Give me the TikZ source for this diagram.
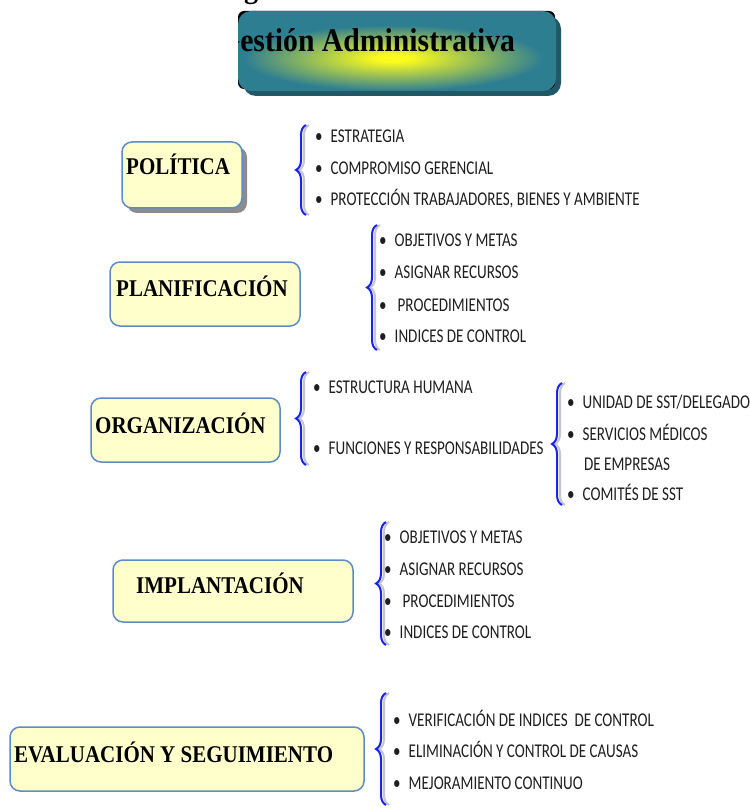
\documentclass[tikz,border=0pt]{standalone}
\usepackage{fontspec}
\setmainfont{Liberation Serif}
\newfontfamily\cond[FakeStretch=0.773]{Carlito}
\newfontfamily\stagefont[FakeStretch=0.875]{Liberation Serif}
\newfontfamily\titlefont[FakeStretch=0.9]{Liberation Serif}
\usetikzlibrary{decorations.pathreplacing}

\definecolor{boxfill}{RGB}{255,255,204}
\definecolor{boxline}{RGB}{92,140,198}
\definecolor{tealmain}{RGB}{46,126,146}
\definecolor{tealdark}{RGB}{32,88,102}
\definecolor{glowc}{RGB}{250,250,30}
\definecolor{bracecol}{RGB}{25,35,235}
\definecolor{shadowgray}{RGB}{140,140,140}
\definecolor{itemcol}{RGB}{30,30,30}

\pgfdeclareradialshading{titleglow}{\pgfpoint{0bp}{0bp}}{%
  color(0bp)=(glowc); color(3bp)=(glowc); color(25bp)=(tealmain); color(50bp)=(tealmain)}

\tikzset{
  stagebox/.style={draw=boxline, line width=1.5pt, fill=boxfill, rounded corners=10pt, inner sep=0pt},
  stagetext/.style={anchor=base west, inner sep=0pt, font=\stagefont\bfseries\fontsize{24}{26}\selectfont},
  itemtext/.style={anchor=base west, inner sep=0pt, text=itemcol, font=\cond\fontsize{19.5}{21}\selectfont},
  bracestyle/.style={draw=bracecol, line width=2pt, decorate, decoration={brace, amplitude=10pt}},
  braceshadow/.style={draw=gray!45, line width=2pt, decorate, decoration={brace, amplitude=10pt}},
}
\newcommand{\bul}{•\hspace{8pt}}

\begin{document}
\begin{tikzpicture}[x=1pt, y=-1pt]
\useasboundingbox (0,0) rectangle (749,810);

% fragment of text above the page
\node[anchor=base west, inner sep=0pt, font=\bfseries\fontsize{28}{30}\selectfont] (gfrag) at (244,-1) {g};

% title
\fill[tealdark, rounded corners=13pt] (243,16) rectangle (561,96);
\fill[black, rounded corners=6pt] (238,11) rectangle (555,89);
\node[fill=tealmain, rounded corners=13pt, minimum width=318pt, minimum height=80pt, inner sep=0pt] (title) at (397,51) {};
\begin{scope}
  \clip[rounded corners=13pt] (title.south west) rectangle (title.north east);
  \shade[shading=titleglow] (393,58) ellipse [x radius=150pt, y radius=33pt];
  \node[anchor=base west, inner sep=0pt, font=\titlefont\bfseries\fontsize{33}{36}\selectfont] (titletext) at (217,52) {Gestión Administrativa};
\end{scope}

% POLITICA
\fill[shadowgray, rounded corners=10pt] (127,147) rectangle (247,213);
\node[stagebox, minimum width=120pt, minimum height=66pt] (pol) at (182,175) {};
\node[stagetext] (polt) at (126,175) {POLÍTICA};
\coordinate (pola) at (306,215);
\coordinate (polb) at (306,125);
\draw[braceshadow] ([xshift=3pt]pola) -- ([xshift=3pt]polb);
\draw[bracestyle] (pola) -- (polb);
\node[itemtext] (pol1) at (315,143) {\bul ESTRATEGIA};
\node[itemtext] (pol2) at (315,175) {\bul COMPROMISO GERENCIAL};
\node[itemtext] (pol3) at (315,206) {\bul PROTECCIÓN TRABAJADORES, BIENES Y AMBIENTE};

% PLANIFICACION
\node[stagebox, minimum width=190pt, minimum height=64pt] (plan) at (205,294) {};
\node[stagetext] (plant) at (116,296) {PLANIFICACIÓN};
\coordinate (plana) at (377,350);
\coordinate (planb) at (377,225);
\draw[braceshadow] ([xshift=3pt]plana) -- ([xshift=3pt]planb);
\draw[bracestyle] (plana) -- (planb);
\node[itemtext] (plan1) at (379,247) {\bul OBJETIVOS Y METAS};
\node[itemtext] (plan2) at (379,278) {\bul ASIGNAR RECURSOS};
\node[itemtext] (plan3) at (379,311) {\bul\hspace{3pt}PROCEDIMIENTOS};
\node[itemtext] (plan4) at (379,342) {\bul INDICES DE CONTROL};

% ORGANIZACION
\node[stagebox, minimum width=189pt, minimum height=64pt] (org) at (185.5,430) {};
\node[stagetext] (orgt) at (95,433) {ORGANIZACIÓN};
\coordinate (orga) at (306,465);
\coordinate (orgb) at (306,372);
\draw[braceshadow] ([xshift=3pt]orga) -- ([xshift=3pt]orgb);
\draw[bracestyle] (orga) -- (orgb);
\node[itemtext] (org1) at (313,393) {\bul ESTRUCTURA HUMANA};
\node[itemtext] (org2) at (313,454) {\bul FUNCIONES Y RESPONSABILIDADES};
\coordinate (suba) at (562,505);
\coordinate (subb) at (562,383);
\draw[braceshadow] ([xshift=3pt]suba) -- ([xshift=3pt]subb);
\draw[bracestyle] (suba) -- (subb);
\node[itemtext] (sub1) at (567,408) {\bul UNIDAD DE SST/DELEGADO};
\node[itemtext] (sub2) at (567,440) {\bul SERVICIOS MÉDICOS};
\node[itemtext] (sub3) at (584,470) {DE EMPRESAS};
\node[itemtext] (sub4) at (567,500) {\bul COMITÉS DE SST};

% IMPLANTACION
\node[stagebox, minimum width=240pt, minimum height=62pt] (impl) at (233,591) {};
\node[stagetext] (implt) at (136,593) {IMPLANTACIÓN};
\coordinate (impla) at (386,645);
\coordinate (implb) at (386,522);
\draw[braceshadow] ([xshift=3pt]impla) -- ([xshift=3pt]implb);
\draw[bracestyle] (impla) -- (implb);
\node[itemtext] (impl1) at (384,543) {\bul OBJETIVOS Y METAS};
\node[itemtext] (impl2) at (384,575) {\bul ASIGNAR RECURSOS};
\node[itemtext] (impl3) at (384,607) {\bul\hspace{3pt}PROCEDIMIENTOS};
\node[itemtext] (impl4) at (384,638) {\bul INDICES DE CONTROL};

% EVALUACION
\node[stagebox, minimum width=354pt, minimum height=64pt] (eval) at (187,759) {};
\node[stagetext] (evalt) at (14,762) {EVALUACIÓN Y SEGUIMIENTO};
\coordinate (evala) at (386,805);
\coordinate (evalb) at (386,693);
\draw[braceshadow] ([xshift=3pt]evala) -- ([xshift=3pt]evalb);
\draw[bracestyle] (evala) -- (evalb);
\node[itemtext] (eval1) at (393,726) {\bul VERIFICACIÓN DE INDICES\ \ DE CONTROL};
\node[itemtext] (eval2) at (393,757) {\bul ELIMINACIÓN Y CONTROL DE CAUSAS};
\node[itemtext] (eval3) at (393,789) {\bul MEJORAMIENTO CONTINUO};
\end{tikzpicture}
\end{document}
